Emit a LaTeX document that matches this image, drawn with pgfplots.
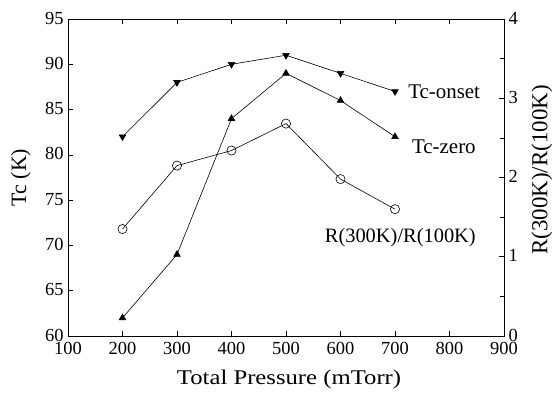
\documentclass[border=0pt]{standalone}
\usepackage{pgfplots}
\pgfplotsset{compat=1.18}
\usepackage{fontspec}
\setmainfont{Liberation Serif}
\begin{document}
\begin{tikzpicture}
\pgfplotsset{every axis/.append style={
  scale only axis, width=436bp, height=317bp,
  /pgf/number format/assume math mode=true,
  tick align=inside, tick style={black, line width=0.6bp}, major tick length=5bp, minor tick length=4bp,
  every tick label/.append style={font=\fontsize{18.5}{21}\selectfont},
  label style={font=\fontsize{22}{25}\selectfont},
  axis line style={line width=0.7bp}}}
\begin{axis}[
  xmin=100, xmax=900, ymin=60, ymax=95,
  xtick={100,200,...,900}, ytick={60,65,...,95},
  xtick pos=both, ytick pos=left,
  xticklabel style={yshift=-5bp, inner ysep=1bp},
  yticklabel style={xshift=-1bp, yshift=1bp, inner ysep=1bp},
  xlabel={\scalebox{1.18}[1]{Total Pressure (mTorr)}}, ylabel={Tc (K)},
  xlabel style={at={(axis description cs:0.507,-0.136)}, anchor=center, font=\fontsize{21}{25}\selectfont},
  ylabel style={at={(axis description cs:-0.108,0.5)}, anchor=center, rotate=0},
]
\addplot[black, line width=0.6bp, mark=triangle*, mark size=3.8bp, mark options={rotate=180, solid}] coordinates {
(200,82) (300,88) (400,90) (500,91) (600,89) (700,87)};
\addplot[black, line width=0.6bp, mark=triangle*, mark size=3.8bp] coordinates {
(200,62) (300,69) (400,84) (500,89) (600,86) (700,82)};
\node[anchor=base west, inner sep=0pt, font=\fontsize{21}{25}\selectfont] at (axis cs:724,86.24) {Tc-onset};
\node[anchor=base west, inner sep=0pt, font=\fontsize{21}{25}\selectfont] at (axis cs:731,80.2) {Tc-zero};
\node[anchor=base west, inner sep=0pt, font=\fontsize{20.5}{25}\selectfont] at (axis cs:571,70.27) {R(300K)/R(100K)};
\end{axis}
\begin{axis}[
  xmin=100, xmax=900, ymin=0, ymax=4,
  axis x line=none, axis y line*=right,
  ytick={0,1,2,3,4}, minor ytick={0.5,1.5,2.5,3.5},
  yticklabel style={xshift=1bp, yshift=1bp, inner ysep=1bp},
  ylabel={R(300K)/R(100K)},
  ylabel style={at={(axis description cs:1.087,0.524)}, anchor=center, rotate=0, font=\fontsize{23}{26}\selectfont},
]
\addplot[black, line width=0.6bp, mark=o, mark size=4.6bp, mark options={fill=white, solid}] coordinates {
(200,1.35) (300,2.15) (400,2.34) (500,2.68) (600,1.98) (700,1.60)};
\end{axis}
\pgfresetboundingbox
\path[use as bounding box] (-68bp,-57bp) rectangle (484bp,336bp);
\end{tikzpicture}
\end{document}
